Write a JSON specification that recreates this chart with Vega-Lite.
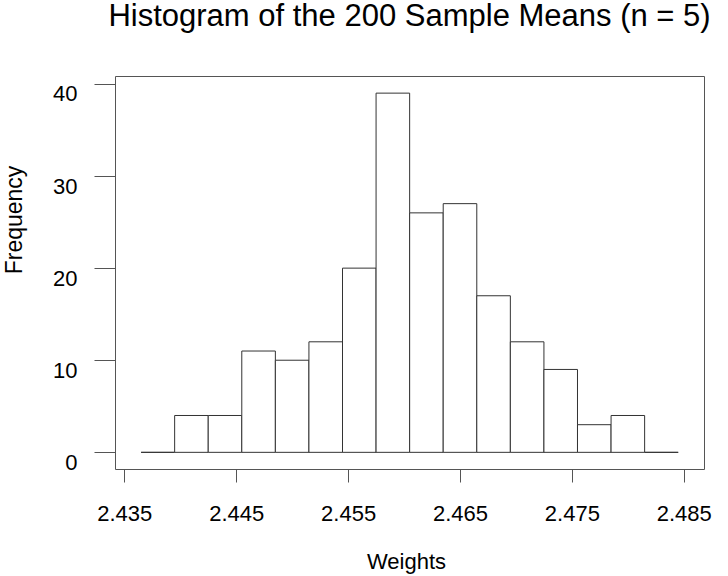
{
  "$schema": "https://vega.github.io/schema/vega-lite/v6.json",
  "description": "Histogram of the 200 sample means (n = 5)",
  "width": 589,
  "height": 393,
  "autosize": {"type": "none"},
  "padding": {"left": 115, "top": 76, "right": 24, "bottom": 107},
  "background": "white",
  "title": {
    "text": "Histogram of the 200 Sample Means (n = 5)",
    "font": "Liberation Sans",
    "fontSize": 31,
    "fontWeight": "normal",
    "color": "black",
    "anchor": "middle",
    "baseline": "alphabetic",
    "offset": 19
  },
  "config": {
    "view": {"stroke": "#555555", "strokeWidth": 1},
    "axis": {
      "grid": false,
      "domain": false,
      "tickColor": "#555555",
      "tickWidth": 1,
      "labelFont": "Liberation Sans",
      "labelFontSize": 22,
      "labelColor": "black",
      "titleFont": "Liberation Sans",
      "titleFontSize": 23,
      "titleFontWeight": "normal",
      "titleColor": "black",
      "labelFlush": false,
      "labelOverlap": false
    }
  },
  "data": {
    "values": [
      {"bin_start": 2.4365, "bin_end": 2.4395, "count": 0},
      {"bin_start": 2.4395, "bin_end": 2.4425, "count": 4},
      {"bin_start": 2.4425, "bin_end": 2.4455, "count": 4},
      {"bin_start": 2.4455, "bin_end": 2.4485, "count": 11},
      {"bin_start": 2.4485, "bin_end": 2.4515, "count": 10},
      {"bin_start": 2.4515, "bin_end": 2.4545, "count": 12},
      {"bin_start": 2.4545, "bin_end": 2.4575, "count": 20},
      {"bin_start": 2.4575, "bin_end": 2.4605, "count": 39},
      {"bin_start": 2.4605, "bin_end": 2.4635, "count": 26},
      {"bin_start": 2.4635, "bin_end": 2.4665, "count": 27},
      {"bin_start": 2.4665, "bin_end": 2.4695, "count": 17},
      {"bin_start": 2.4695, "bin_end": 2.4725, "count": 12},
      {"bin_start": 2.4725, "bin_end": 2.4755, "count": 9},
      {"bin_start": 2.4755, "bin_end": 2.4785, "count": 3},
      {"bin_start": 2.4785, "bin_end": 2.4815, "count": 4},
      {"bin_start": 2.4815, "bin_end": 2.4845, "count": 0}
    ]
  },
  "mark": {"type": "rect", "fill": "white", "stroke": "#333333", "strokeWidth": 1},
  "encoding": {
    "x": {
      "field": "bin_start",
      "type": "quantitative",
      "scale": {"domain": [2.434169, 2.486805], "nice": false, "zero": false},
      "axis": {
        "title": "Weights",
        "values": [2.435, 2.445, 2.455, 2.465, 2.475, 2.485],
        "format": ".3f",
        "tickSize": 13,
        "labelPadding": 21,
        "titleY": 99,
        "titleX": 291,
        "titleBaseline": "alphabetic",
        "titleFontSize": 22
      }
    },
    "x2": {"field": "bin_end"},
    "y": {
      "field": "count",
      "type": "quantitative",
      "scale": {"domain": [-1.81, 40.86], "nice": false, "zero": false},
      "axis": {
        "title": "Frequency",
        "values": [0, 10, 20, 30, 40],
        "tickSize": 21,
        "labelPadding": 17,
        "labelBaseline": "top",
        "labelAlign": "right",
        "titleAngle": 270,
        "titleX": -94,
        "titleY": 143.5,
        "titleAlign": "center",
        "titleBaseline": "alphabetic"
      }
    },
    "y2": {"datum": 0}
  }
}
